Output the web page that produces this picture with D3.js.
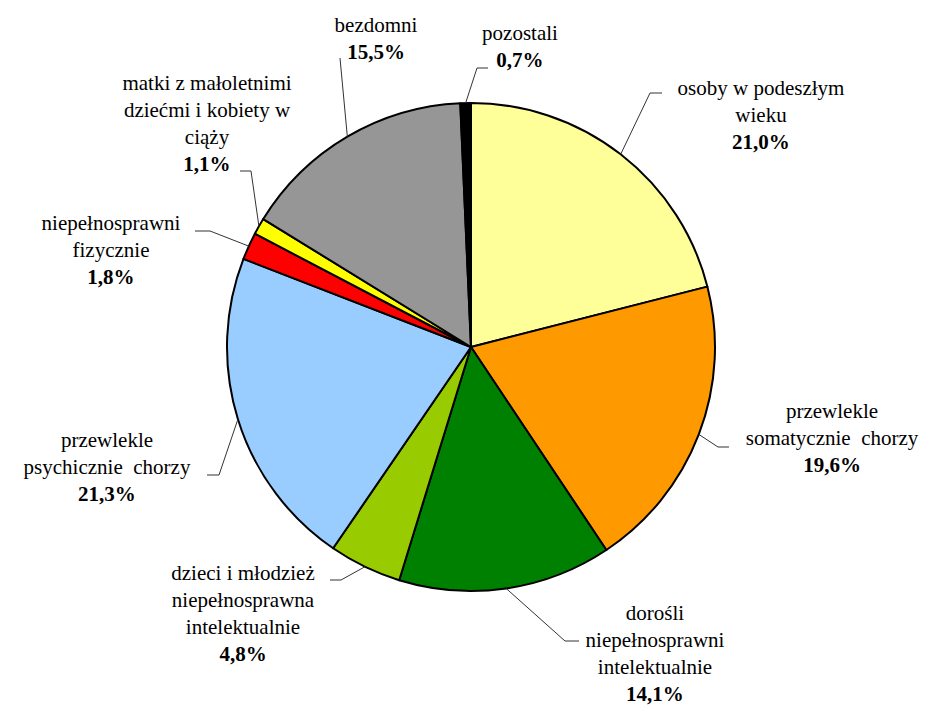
<!DOCTYPE html>
<html>
<head>
<meta charset="utf-8">
<script src="https://cdn.jsdelivr.net/npm/d3@7"></script>
<style>
  html, body { margin: 0; padding: 0; background: #fff; }
  #wrap { position: relative; width: 933px; height: 705px; }
  #chart { position: absolute; left: 0; top: 0; }
  .label { position: absolute; font-family: 'Liberation Serif', 'Times New Roman', serif; font-size: 21px;
           line-height: 27px; color: #000; text-align: center; white-space: pre; transform: translateX(-50%); }
  .label b { font-weight: bold; }
</style>
</head>
<body>
<div id="wrap"><svg id="chart" width="933" height="705"></svg></div>
<script>
// Categories (each label split into lines), shares in percent and slice colours
const categories = [
  ["osoby w podeszłym", "wieku"],
  ["przewlekle", "somatycznie  chorzy"],
  ["dorośli", "niepełnosprawni", "intelektualnie"],
  ["dzieci i młodzież", "niepełnosprawna", "intelektualnie"],
  ["przewlekle", "psychicznie  chorzy"],
  ["niepełnosprawni", "fizycznie"],
  ["matki z małoletnimi", "dziećmi i kobiety w", "ciąży"],
  ["bezdomni"],
  ["pozostali"]
];
const values = [21.0, 19.6, 14.1, 4.8, 21.3, 1.8, 1.1, 15.5, 0.7];
const colors = ["#FFFF99", "#FF9900", "#008000", "#99CC00", "#99CCFF", "#FF0000", "#FFFF00", "#969696", "#000000"];

// Label placement: text centre x, first baseline y, leader elbow and end of the horizontal tick
const labelX     = [761, 832, 655, 243, 107, 111, 207, 376, 520];
const labelY     = [95, 418, 620, 580, 447, 230, 90, 32, 40];
const elbow      = [[650, 93], [718, 447], [565, 641], [341, 580], [219, 475], [210, 231], [251, 171], [340, 58], [477, 68]];
const tickEnd    = [[662, 93], [729, 447], [579, 641], [330, 580], [207, 475], [195, 231], [240, 171], [340, 58], [488, 68]];

const cx = 471, cy = 347, radius = 244, lineH = 27;
// distance from the top of a 27px line box to the baseline for 21px serif text
const baselineOffset = 20;

const fmt = v => d3.format(".1f")(v).replace(".", ",") + "%";

const svg = d3.select("#chart");
const g = svg.append("g").attr("transform", `translate(${cx},${cy})`);

const pie = d3.pie().sort(null).value(d => d.value);
const arc = d3.arc().innerRadius(0).outerRadius(radius);
const data = values.map((v, i) => ({ value: v, i }));
const arcs = pie(data);

g.selectAll("path.slice")
  .data(arcs)
  .join("path")
  .attr("class", "slice")
  .attr("d", arc)
  .attr("fill", d => colors[d.data.i])
  .attr("stroke", "#000")
  .attr("stroke-width", 2)
  .attr("stroke-linejoin", "round");

// Leader lines from the middle of each slice's rim to its label
svg.selectAll("polyline.leader")
  .data(arcs)
  .join("polyline")
  .attr("class", "leader")
  .attr("fill", "none")
  .attr("stroke", "#333")
  .attr("stroke-width", 1)
  .attr("points", d => {
    const a = (d.startAngle + d.endAngle) / 2;
    const p = [cx + radius * Math.sin(a), cy - radius * Math.cos(a)];
    const i = d.data.i;
    return [p, elbow[i], tickEnd[i]].map(q => q.join(",")).join(" ");
  });

// Labels: category lines followed by the bold percentage
const labels = d3.select("#wrap").selectAll("div.label")
  .data(arcs)
  .join("div")
  .attr("class", "label")
  .style("left", d => labelX[d.data.i] + "px")
  .style("top", d => (labelY[d.data.i] - baselineOffset) + "px");

labels.each(function(d) {
  const t = d3.select(this);
  categories[d.data.i].forEach(ln => t.append("div").text(ln));
  t.append("b").text(fmt(d.data.value));
});
</script>
</body>
</html>
